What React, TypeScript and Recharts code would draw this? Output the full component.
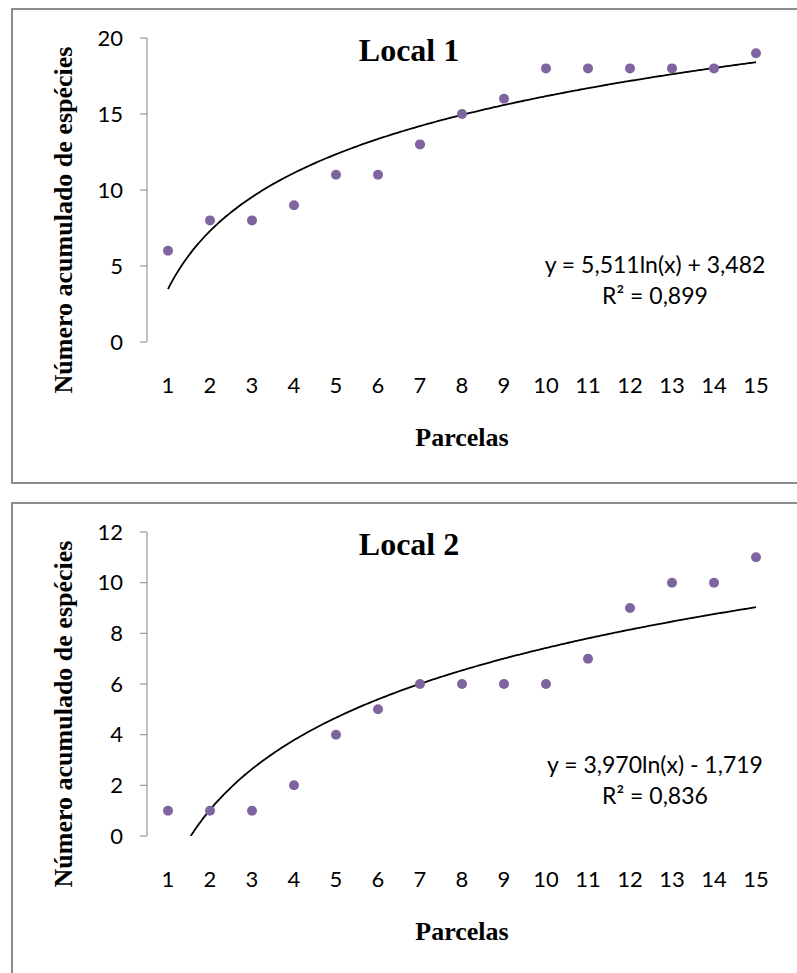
import { ComposedChart, Line, Scatter, XAxis, YAxis } from "recharts";

const parcelas = [1, 2, 3, 4, 5, 6, 7, 8, 9, 10, 11, 12, 13, 14, 15];
const local1 = [6, 8, 8, 9, 11, 11, 13, 15, 16, 18, 18, 18, 18, 18, 19];
const local2 = [1, 1, 1, 2, 4, 5, 6, 6, 6, 6, 7, 9, 10, 10, 11];
const yTicks1 = [0, 5, 10, 15, 20];
const yTicks2 = [0, 2, 4, 6, 8, 10, 12];
// log trend coefficients as printed on the charts: y = a*ln(x) + b
const trend1 = [5.511, 3.482];
const trend2 = [3.97, -1.719];

const boundaries = [...parcelas.map((p) => p - 0.5), parcelas[parcelas.length - 1] + 0.5];
const AXIS = "#868686";
const DOT = "#8064a2";
const SANS = "Lato, 'Open Sans', sans-serif";
const SERIF = "'Liberation Serif', 'Times New Roman', serif";

function trendCurve([a, b]: number[]) {
  const first = Math.max(1, Math.exp(-b / a));
  const last = parcelas[parcelas.length - 1];
  const pts = [];
  for (let i = 0; i <= 200; i++) {
    const x = first + ((last - first) * i) / 200;
    pts.push({ x, y: a * Math.log(x) + b });
  }
  return pts;
}

type PanelProps = {
  top: number;
  boxHeight: number;
  title: string;
  values: number[];
  yTicks: number[];
  trend: number[];
  eq: string;
  r2: string;
  eqTop: number;
};

function Panel({ top, boxHeight, title, values, yTicks, trend, eq, r2, eqTop }: PanelProps) {
  const points = parcelas.map((p, i) => ({ x: p, y: values[i] }));
  const curve = trendCurve(trend);
  return (
    <div style={{ position: "absolute", left: 0, top, width: 797, height: 494 }}>
      <div
        style={{
          position: "absolute",
          left: 11,
          top: 8,
          width: 800,
          height: boxHeight,
          border: "2px solid #8c8c8c",
          boxSizing: "border-box",
        }}
      />
      <div style={{ position: "absolute", left: 0, top: 0 }}>
        <ComposedChart
          width={797}
          height={484}
          margin={{ top: 38, right: 20, bottom: 0, left: 0 }}
        >
          <XAxis
            xAxisId={0}
            type="number"
            dataKey="x"
            domain={[0.5, 15.5]}
            allowDataOverflow
            ticks={boundaries}
            interval={0}
            tick={false}
            tickSize={6}
            height={0}
            stroke={AXIS}
          />
          <XAxis
            xAxisId="labels"
            type="number"
            dataKey="x"
            domain={[0.5, 15.5]}
            allowDataOverflow
            ticks={parcelas}
            interval={0}
            axisLine={false}
            tickLine={false}
            tickSize={0}
            tickMargin={35}
            height={142}
            tick={{ fill: "#000", fontSize: 22, fontFamily: SANS }}
            label={{
              value: "Parcelas",
              position: "center",
              dy: 24,
              fill: "#000",
              fontSize: 26,
              fontWeight: "bold",
              fontFamily: SERIF,
            }}
          />
          <YAxis
            type="number"
            dataKey="y"
            domain={[0, yTicks[yTicks.length - 1]]}
            allowDataOverflow
            ticks={yTicks}
            interval={0}
            width={147}
            tickSize={7}
            tickMargin={17}
            stroke={AXIS}
            tick={{ fill: "#000", fontSize: 22, fontFamily: SANS }}
            label={{
              value: "Número acumulado de espécies",
              angle: -90,
              position: "center",
              dx: -11,
              dy: 30,
              fill: "#000",
              fontSize: 26,
              fontWeight: "bold",
              fontFamily: SERIF,
            }}
          />
          <Line
            data={curve}
            dataKey="y"
            type="monotone"
            dot={false}
            stroke="#000"
            strokeWidth={1.8}
            isAnimationActive={false}
          />
          <Scatter
            data={points}
            dataKey="y"
            fill={DOT}
            isAnimationActive={false}
            shape={(p: any) => <circle cx={p.cx} cy={p.cy} r={5} fill={DOT} />}
          />
        </ComposedChart>
      </div>
      <div
        style={{
          position: "absolute",
          left: 525,
          top: eqTop,
          width: 260,
          textAlign: "center",
          fontFamily: SANS,
          fontSize: 23,
          lineHeight: "31px",
          color: "#000",
        }}
      >
        <div>{eq}</div>
        <div>{r2}</div>
      </div>
      <div
        style={{
          position: "absolute",
          left: 309,
          top: 32,
          width: 200,
          textAlign: "center",
          fontFamily: SERIF,
          fontWeight: "bold",
          fontSize: 32,
          lineHeight: "36px",
          color: "#000",
        }}
      >
        {title}
      </div>
    </div>
  );
}

export default function App() {
  return (
    <div
      style={{
        position: "absolute",
        left: 0,
        top: 0,
        width: 797,
        height: 973,
        overflow: "hidden",
        background: "#fff",
      }}
    >
      <Panel
        top={0}
        boxHeight={476}
        title="Local 1"
        values={local1}
        yTicks={yTicks1}
        trend={trend1}
        eq="y = 5,511ln(x) + 3,482"
        r2="R² = 0,899"
        eqTop={249}
      />
      <Panel
        top={494}
        boxHeight={490}
        title="Local 2"
        values={local2}
        yTicks={yTicks2}
        trend={trend2}
        eq="y = 3,970ln(x) - 1,719"
        r2="R² = 0,836"
        eqTop={255}
      />
    </div>
  );
}
